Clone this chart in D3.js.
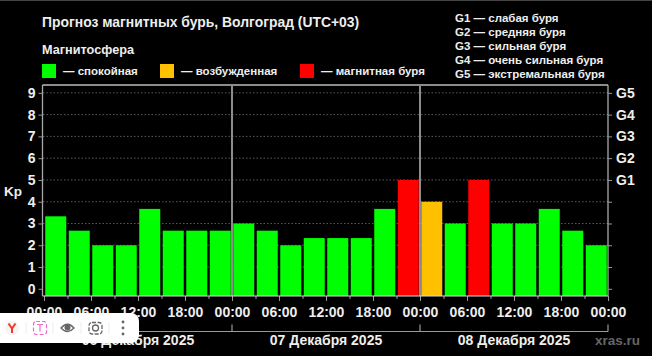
<!DOCTYPE html>
<html>
<head>
<meta charset="utf-8">
<script src="https://cdn.jsdelivr.net/npm/d3@7"></script>
<style>
  html, body { margin: 0; padding: 0; background: #000; overflow: hidden; }
  svg { display: block; }
  text { font-family: "Liberation Sans", Arial, sans-serif; font-weight: bold; fill: #eee; }
</style>
</head>
<body>
<svg id="chart" width="652" height="356"></svg>
<script>
// DATA
const kpValues = [
  3.33, 2.67, 2, 2, 3.67, 2.67, 2.67, 2.67,
  3, 2.67, 2, 2.33, 2.33, 2.33, 3.67, 5,
  4, 3, 5, 3, 3, 3.67, 2.67, 2,
];
const kpTicks = [0, 1, 2, 3, 4, 5, 6, 7, 8, 9];
const stormTicks = [5, 6, 7, 8, 9];
const stormLabels = ["G1", "G2", "G3", "G4", "G5"];
const stormNames = [
  "G1 — слабая буря",
  "G2 — средняя буря",
  "G3 — сильная буря",
  "G4 — очень сильная буря",
  "G5 — экстремальная буря",
];
const dayLabels = ["06 Декабря 2025", "07 Декабря 2025", "08 Декабря 2025"];
const hourTicks = [0, 6, 12, 18, 24, 30, 36, 42, 48, 54, 60, 66, 72];
const minorTicks = [3, 9, 15, 21, 27, 33, 39, 45, 51, 57, 63, 69];
const dayTicks = [0, 24, 48, 72];
const legendLabels = ["— спокойная", "— возбужденная", "— магнитная буря"];
const legendColors = ["#00ff00", "#ffc000", "#ff0000"];

// CANVAS SETUP
const svg = d3.select("#chart");
const margin = { top: 85, right: 44, bottom: 60, left: 44 };
const width = 652 - margin.left - margin.right,
  height = 356 - margin.top - margin.bottom;

const xScale = d3.scaleLinear().domain([0, 72]).range([0, width]);
const yScale = d3.scaleLinear().domain([-0.33, 9.36]).range([height, 0]);

const barColor = (v) => (v >= 5 ? legendColors[2] : v >= 4 ? legendColors[1] : legendColors[0]);

svg.append("rect").attr("width", 652).attr("height", 356).attr("fill", "#000");
svg.append("rect").attr("width", 652).attr("height", 1).attr("fill", "#444");

const g = svg.append("g").attr("transform", `translate(${margin.left},${margin.top})`);

// GRID
g.selectAll("line.grid")
  .data(kpTicks.slice(1))
  .join("line")
  .attr("class", "grid")
  .attr("x1", -1)
  .attr("x2", width)
  .attr("y1", (d) => yScale(d))
  .attr("y2", (d) => yScale(d))
  .attr("stroke", "#5a5a5a")
  .attr("stroke-dasharray", "1.5,2");

// BARS
const barGap = 2.5;
g.selectAll("rect.bar")
  .data(kpValues)
  .join("rect")
  .attr("class", "bar")
  .attr("x", (d, i) => xScale(i * 3) + barGap / 2)
  .attr("width", xScale(3) - xScale(0) - barGap)
  .attr("y", (d) => yScale(d))
  .attr("height", (d) => yScale(-0.33) - yScale(d))
  .attr("fill", barColor);

// FRAME
g.append("line").attr("x1", -1.5).attr("x2", -1.5).attr("y1", 0).attr("y2", height).attr("stroke", "#aaa").attr("stroke-width", 1.3);
g.append("line").attr("x1", width).attr("x2", width).attr("y1", 0).attr("y2", height).attr("stroke", "#aaa").attr("stroke-width", 1.3);
g.append("line").attr("x1", -1.5).attr("x2", width).attr("y1", 0).attr("y2", 0).attr("stroke", "#bbb").attr("stroke-width", 1.3);
g.selectAll("line.day")
  .data(dayTicks.slice(1, 3))
  .join("line")
  .attr("class", "day")
  .attr("x1", (d) => xScale(d))
  .attr("x2", (d) => xScale(d))
  .attr("y1", 0)
  .attr("y2", height)
  .attr("stroke", "#8c8c8c")
  .attr("stroke-width", 2);

// AXES
const styleAxis = (sel, size) => {
  sel.select(".domain").remove();
  sel.selectAll("line").attr("stroke", "#999");
  sel.selectAll("text").attr("font-size", size).attr("fill", "#eee");
};

g.append("g")
  .attr("transform", "translate(-1.5,0)")
  .call(d3.axisLeft(yScale).tickValues(kpTicks).tickSize(4).tickPadding(3).tickFormat(d3.format("d")))
  .attr("font-family", null)
  .call(styleAxis, 14);

g.append("g")
  .attr("transform", `translate(${width},0)`)
  .call(
    d3.axisRight(yScale)
      .tickValues(kpTicks)
      .tickSize(4)
      .tickPadding(4)
      .tickFormat((d) => (d >= 5 ? stormLabels[stormTicks.indexOf(d)] : ""))
  )
  .attr("font-family", null)
  .call(styleAxis, 14);

g.append("text").attr("x", 4 - margin.left).attr("y", 196 - margin.top).attr("font-size", 13.5).text("Kp");

g.append("g")
  .attr("transform", `translate(0,${height})`)
  .call(
    d3.axisBottom(xScale)
      .tickValues(hourTicks)
      .tickSize(5)
      .tickPadding(6)
      .tickFormat((d) => String(d % 24 === 0 ? 0 : d % 24).padStart(2, "0") + ":00")
  )
  .attr("font-family", null)
  .call(styleAxis, 14);

g.append("g")
  .attr("transform", `translate(0,${height})`)
  .call(d3.axisBottom(xScale).tickValues(minorTicks).tickSize(3).tickFormat(""))
  .call(styleAxis, 12);

g.append("line").attr("x1", -1.5).attr("x2", width).attr("y1", height).attr("y2", height).attr("stroke", "#ddd").attr("stroke-width", 1.2);

// DATE BRACKET
const dateY = 331.5 - margin.top;
g.append("line").attr("x1", 0).attr("x2", width).attr("y1", dateY).attr("y2", dateY).attr("stroke", "#999").attr("stroke-width", 1.2);
g.selectAll("line.dayTick")
  .data(dayTicks)
  .join("line")
  .attr("class", "dayTick")
  .attr("x1", (d) => xScale(d))
  .attr("x2", (d) => xScale(d))
  .attr("y1", dateY - 7)
  .attr("y2", dateY)
  .attr("stroke", "#999")
  .attr("stroke-width", 1.2);
g.selectAll("text.dayLabel")
  .data(dayLabels)
  .join("text")
  .attr("class", "dayLabel")
  .attr("x", (d, i) => xScale(i * 24 + 12))
  .attr("y", 345 - margin.top)
  .attr("text-anchor", "middle")
  .attr("font-size", 14)
  .text((d) => d);

// HEADER
svg.append("text").attr("x", 42).attr("y", 27).attr("font-size", 13.9).text("Прогноз магнитных бурь, Волгоград (UTC+03)");
svg.append("text").attr("x", 42).attr("y", 53.5).attr("font-size", 12.7).text("Магнитосфера");

const legendX = [42, 160, 300];
const legend = svg.selectAll("g.legend")
  .data(legendLabels)
  .join("g")
  .attr("class", "legend")
  .attr("transform", (d, i) => `translate(${legendX[i]},64)`);
legend.append("rect").attr("width", 14).attr("height", 14).attr("fill", (d, i) => legendColors[i]);
legend.append("text").attr("x", 21).attr("y", 11).attr("font-size", 11.5).text((d) => d);

svg.selectAll("text.storm")
  .data(stormNames)
  .join("text")
  .attr("class", "storm")
  .attr("x", 455)
  .attr("y", (d, i) => 22 + i * 13.9)
  .attr("font-size", 11.5)
  .text((d) => d);

svg.append("text").attr("x", 595).attr("y", 345).attr("font-size", 13.5).style("fill", "#666").text("xras.ru");

// BROWSER WIDGET ON TOP OF THE PICTURE
const widget = svg.append("g").attr("transform", "translate(0,313)");
widget.append("rect").attr("x", -12).attr("width", 151).attr("height", 30).attr("rx", 8).attr("fill", "#fff");
widget.selectAll("line.sep")
  .data([26, 53, 81, 109])
  .join("line")
  .attr("class", "sep")
  .attr("x1", (d) => d)
  .attr("x2", (d) => d)
  .attr("y1", 9)
  .attr("y2", 21)
  .attr("stroke", "#eee");
widget.append("circle").attr("cx", 12).attr("cy", 15).attr("r", 7).attr("fill", "#f4f4f4");
widget.append("path").attr("d", "M8.5,10.5 L12,15.5 L15.5,10.5 M12,15.5 V20").attr("fill", "none").attr("stroke", "#f0392b").attr("stroke-width", 2);
widget.append("rect").attr("x", 33.5).attr("y", 8.5).attr("width", 13).attr("height", 13).attr("rx", 2.5).attr("fill", "none").attr("stroke", "#f06ac8").attr("stroke-width", 1.2).attr("stroke-dasharray", "4,2");
widget.append("path").attr("d", "M37,11.5 H43 M40,11.5 V18.5").attr("fill", "none").attr("stroke", "#f06ac8").attr("stroke-width", 1.2);
widget.append("path").attr("d", "M61,15 Q67.5,7.5 74,15 Q67.5,22 61,15 Z").attr("fill", "none").attr("stroke", "#666").attr("stroke-width", 1.3);
widget.append("circle").attr("cx", 67.5).attr("cy", 14.5).attr("r", 3).attr("fill", "#666");
widget.append("rect").attr("x", 89).attr("y", 9.5).attr("width", 13).attr("height", 11.5).attr("rx", 3).attr("fill", "none").attr("stroke", "#666").attr("stroke-width", 1.3).attr("stroke-dasharray", "4,1.5");
widget.append("circle").attr("cx", 95.5).attr("cy", 15).attr("r", 3).attr("fill", "none").attr("stroke", "#666").attr("stroke-width", 1.3);
widget.selectAll("circle.dot")
  .data([9, 15, 21])
  .join("circle")
  .attr("class", "dot")
  .attr("cx", 123)
  .attr("cy", (d) => d)
  .attr("r", 1.4)
  .attr("fill", "#666");
</script>
</body>
</html>
